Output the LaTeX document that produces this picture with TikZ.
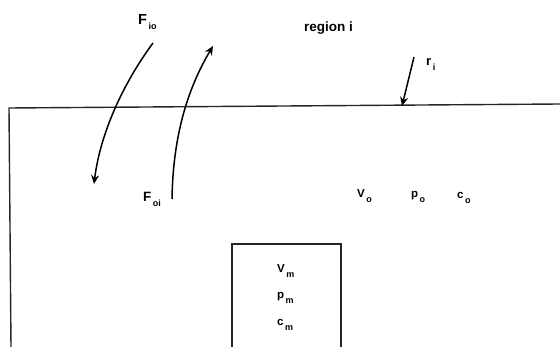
\documentclass[tikz,border=0pt]{standalone}
\usepackage{fontspec}
\setmainfont{Liberation Sans}
\usetikzlibrary{arrows.meta}
\newcommand{\lowsub}[1]{\hspace{1.5pt}\raisebox{-5pt}{\fontsize{9}{10}\selectfont #1}}
\tikzset{
  lbl/.style={font=\fontsize{11.5}{13}\selectfont\bfseries, inner sep=0pt, anchor=base west},
  biglbl/.style={lbl, font=\fontsize{14.5}{16}\selectfont\bfseries},
  wall/.style={line width=1.4pt, black!85},
  flow/.style={line width=1.5pt, -{Stealth[length=9pt,width=8pt]}},
}
\begin{document}
\begin{tikzpicture}[x=1pt,y=-1pt]
\useasboundingbox (0,0) rectangle (560,347);
% outer region
\coordinate (obl) at (11,347);
\coordinate (otl) at (9,108);
\coordinate (otr) at (560,104);
\draw[wall] (obl) -- (otl) -- (otr);
% inner box
\coordinate (ibl) at (232,347);
\coordinate (itl) at (232,244);
\coordinate (itr) at (341,244);
\coordinate (ibr) at (341,347);
\draw[wall] (ibl) -- (itl) -- (itr) -- (ibr);
% labels
\node[biglbl] (Fio) at (138,25) {F\lowsub{io}};
\node[lbl, font=\fontsize{13.5}{15}\selectfont\bfseries] (reg) at (304,32) {region i};
\node[lbl, font=\fontsize{13}{15}\selectfont\bfseries] (ri) at (426,66) {r\lowsub{i}};
\node[biglbl, font=\fontsize{13.5}{15}\selectfont\bfseries] (Foi) at (143,202) {F\lowsub{oi}};
\node[lbl] (Vo) at (357,198) {V\lowsub{o}};
\node[lbl] (po) at (411,198) {p\lowsub{o}};
\node[lbl] (co) at (457,199) {c\lowsub{o}};
\node[lbl] (Vm) at (277,273) {V\lowsub{m}};
\node[lbl] (pm) at (277,299) {p\lowsub{m}};
\node[lbl] (cm) at (277,326) {c\lowsub{m}};
% arrows
\coordinate (a1s) at (153,43);
\coordinate (a1e) at (94,184);
\draw[flow] (a1s) .. controls (122,85) and (100,135) .. (a1e);
\coordinate (a2s) at (172,199);
\coordinate (a2e) at (213,46);
\draw[flow] (a2s) .. controls (173,135) and (188,88) .. (a2e);
\coordinate (a3s) at (414,57);
\coordinate (a3e) at (402,106);
\draw[flow] (a3s) -- (a3e);
\end{tikzpicture}
\end{document}
